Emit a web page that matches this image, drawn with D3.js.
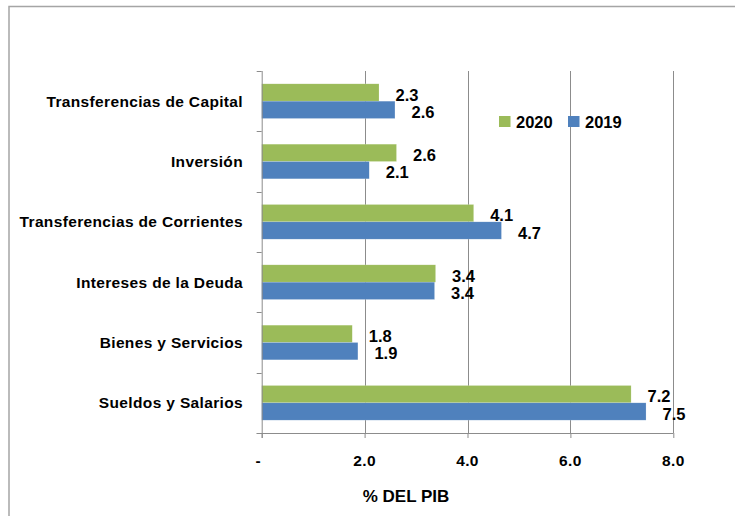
<!DOCTYPE html>
<html>
<head>
<meta charset="utf-8">
<script src="https://cdn.jsdelivr.net/npm/d3@7"></script>
<style>
  html, body { margin: 0; padding: 0; background: #fff; }
  svg { display: block; font-family: "Liberation Sans", Arial, sans-serif; font-weight: bold; }
</style>
</head>
<body>
<div id="chart"></div>
<script>
const categories = [
  "Transferencias de Capital",
  "Inversión",
  "Transferencias de Corrientes",
  "Intereses de la Deuda",
  "Bienes y Servicios",
  "Sueldos y Salarios"
];
const series = ["2020", "2019"];
const values2020 = [2.28, 2.62, 4.12, 3.38, 1.76, 7.18];
const values2019 = [2.59, 2.09, 4.66, 3.36, 1.87, 7.47];
const xTicks = [0, 2, 4, 6, 8];
const xTitle = "% DEL PIB";

const colors = { "2020": "#9bbb59", "2019": "#4f81bd" };

const width = 735, height = 516;
const margin = { top: 71, left: 261.7, right: 735 - 673.3, bottom: 516 - 433 };

const rows = categories.map((c, i) => ({
  name: c,
  vals: [
    { key: "2020", v: values2020[i] },
    { key: "2019", v: values2019[i] }
  ]
}));

const svg = d3.select("#chart").append("svg")
    .attr("width", width)
    .attr("height", height);

// frame of the chart object
svg.append("rect")
    .attr("x", 9).attr("y", 6.5)
    .attr("width", 800).attr("height", 600)
    .attr("fill", "none")
    .attr("stroke", "#a5a5a5")
    .attr("stroke-width", 1.5);

const x = d3.scaleLinear()
    .domain([0, 8])
    .range([margin.left, width - margin.right]);

const y = d3.scaleBand()
    .domain(categories)
    .range([margin.top, height - margin.bottom]);

const ySub = d3.scaleBand()
    .domain(series)
    .range([0, y.bandwidth()])
    .paddingInner(0)
    .paddingOuter(0.74);

// vertical gridlines
svg.append("g")
    .attr("stroke", "#8c8c8c")
  .selectAll("line")
  .data(xTicks.filter(d => d > 0))
  .join("line")
    .attr("x1", d => Math.round(x(d)) + 0.5)
    .attr("x2", d => Math.round(x(d)) + 0.5)
    .attr("y1", margin.top)
    .attr("y2", height - margin.bottom);

// bars
const group = svg.append("g")
  .selectAll("g")
  .data(rows)
  .join("g")
    .attr("transform", d => `translate(0,${y(d.name)})`);

group.selectAll("rect")
  .data(d => d.vals)
  .join("rect")
    .attr("x", x(0))
    .attr("y", d => ySub(d.key))
    .attr("width", d => x(d.v) - x(0))
    .attr("height", ySub.bandwidth())
    .attr("fill", d => colors[d.key])
    .attr("stroke", "#fff")
    .attr("stroke-opacity", 0.35)
    .attr("stroke-width", 0.5);

group.selectAll("text")
  .data(d => d.vals)
  .join("text")
    .attr("x", d => x(d.v) + 16.5)
    .attr("y", d => ySub(d.key) + ySub.bandwidth() - 0.5)
    .attr("font-size", 16.5)
    .attr("fill", "#000")
    .text(d => d3.format(".1f")(d.v));

// x axis
const xAxis = svg.append("g")
    .attr("transform", `translate(0,${height - margin.bottom})`)
    .call(d3.axisBottom(x).tickValues(xTicks).tickSize(5).tickFormat(""));
xAxis.select(".domain").attr("stroke", "#8c8c8c").attr("d", `M${x(0) - 5},0.5H${x(8)}`);
xAxis.selectAll(".tick line").attr("stroke", "#8c8c8c");

svg.append("g")
  .selectAll("text")
  .data(xTicks)
  .join("text")
    .attr("x", d => d === 0 ? x(d) - 3.5 : x(d))
    .attr("y", 466)
    .attr("text-anchor", "middle")
    .attr("font-size", 15.5)
    .attr("letter-spacing", 0.4)
    .text(d => d === 0 ? "-" : d3.format(".1f")(d));

svg.append("text")
    .attr("x", 406)
    .attr("y", 502)
    .attr("text-anchor", "middle")
    .attr("font-size", 17)
    .text(xTitle);

// y axis
const yAxis = svg.append("g")
    .attr("transform", `translate(${x(0)},0)`)
    .call(d3.axisLeft(y).tickSize(0).tickFormat(""));
yAxis.select(".domain").attr("stroke", "#8c8c8c").attr("d", `M0.5,${margin.top}V${height - margin.bottom + 5}`);

svg.append("g")
    .attr("stroke", "#8c8c8c")
  .selectAll("line")
  .data(d3.range(categories.length + 1))
  .join("line")
    .attr("x1", x(0) - 5)
    .attr("x2", x(0))
    .attr("y1", i => Math.round(margin.top + i * y.step()) + 0.5)
    .attr("y2", i => Math.round(margin.top + i * y.step()) + 0.5);

svg.append("g")
  .selectAll("text")
  .data(categories)
  .join("text")
    .attr("x", 243)
    .attr("y", d => y(d) + y.bandwidth() / 2 + 5.5)
    .attr("text-anchor", "end")
    .attr("font-size", 15.5)
    .attr("letter-spacing", 0.35)
    .text(d => d);

// legend
const legend = svg.append("g")
  .selectAll("g")
  .data(series)
  .join("g")
    .attr("transform", (d, i) => `translate(${499 + i * 69},116)`);

legend.append("rect")
    .attr("width", 11.5)
    .attr("height", 11)
    .attr("fill", d => colors[d]);

legend.append("text")
    .attr("x", 17)
    .attr("y", 11.5)
    .attr("font-size", 16.5)
    .text(d => d);
</script>
</body>
</html>
